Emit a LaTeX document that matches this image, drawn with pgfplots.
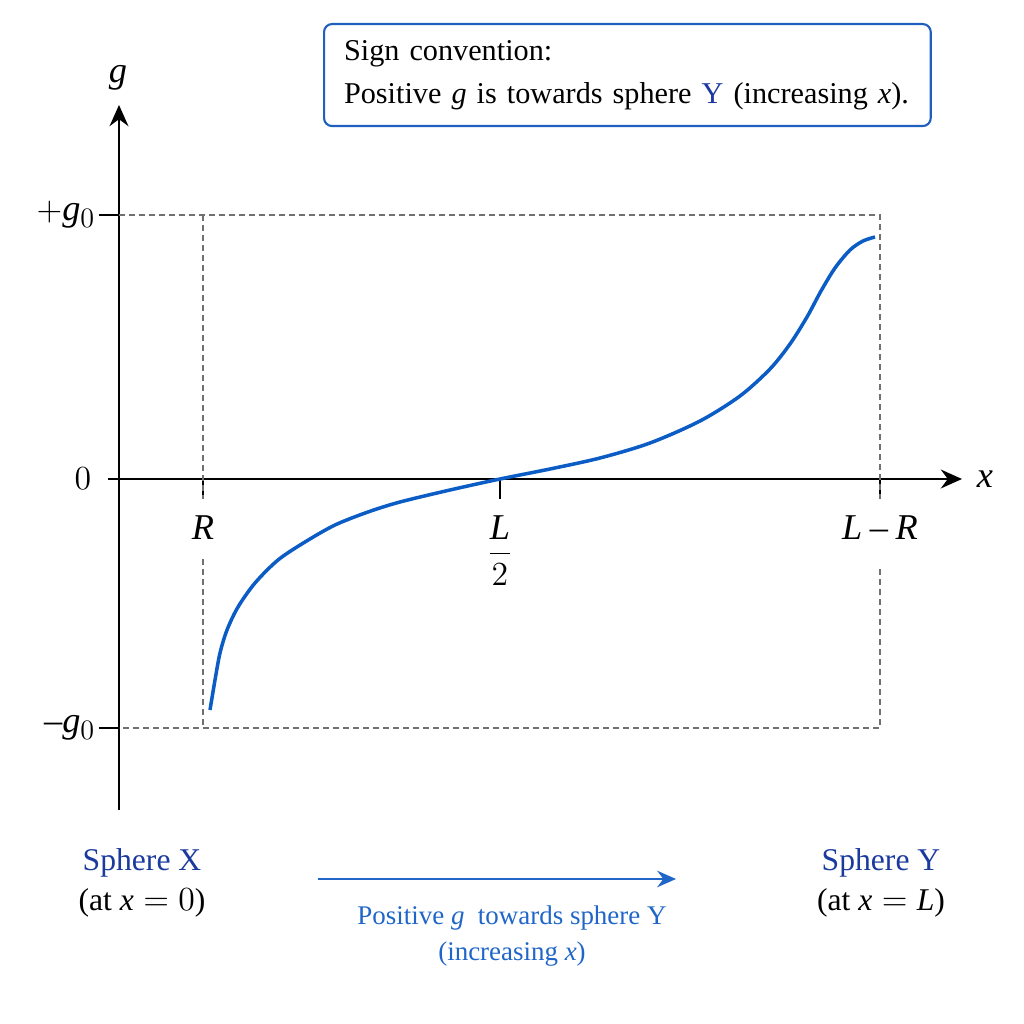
\documentclass[border=0pt]{standalone}
\usepackage{amsmath}
\usepackage{fontspec}
\setmainfont{Liberation Serif}
\usepackage[italic]{mathastext}
\usepackage{pgfplots}
\pgfplotsset{compat=1.18}
\usetikzlibrary{arrows.meta}

\definecolor{curveblue}{HTML}{0B5CC5}
\definecolor{boxblue}{HTML}{1F5FC0}
\definecolor{navy}{HTML}{1B3A9E}
\definecolor{capblue}{HTML}{1F66C8}
\definecolor{dashgray}{HTML}{707070}

\begin{document}
\begin{tikzpicture}
\begin{axis}[
    x=0.015cm, y=0.015cm,
    axis lines=middle,
    xmin=-11, xmax=843,
    ymin=-331, ymax=374,
    enlargelimits=false,
    clip=false,
    axis line style={line width=1.1pt},
    x axis line style={-{Stealth[length=9pt,width=8pt]}},
    y axis line style={-{Stealth[length=9pt,width=8pt]}},
    xtick={84,381,761},
    xticklabels={$R$,$\dfrac{L}{2}$,$L-R$},
    ytick={-249,0,264},
    yticklabels={$-g_0$,$0$,$+g_0$},
    tick align=outside,
    major tick length=0.3cm,
    tick style={black, line width=0.9pt},
    ticklabel style={font=\fontsize{15.5}{18}\selectfont},
    x tick label style={yshift=-0.12cm},
    y tick label style={xshift=0.07cm},
]
% dashed bounds
\draw[dashgray, line width=0.65pt, dash pattern=on 0.09cm off 0.06cm]
    (axis cs:0,264) -- (axis cs:761,264) -- (axis cs:761,-20);
\draw[dashgray, line width=0.65pt, dash pattern=on 0.09cm off 0.06cm]
    (axis cs:761,-90) -- (axis cs:761,-249) -- (axis cs:0,-249);
\draw[dashgray, line width=0.65pt, dash pattern=on 0.09cm off 0.06cm]
    (axis cs:84,264) -- (axis cs:84,-20);
\draw[dashgray, line width=0.65pt, dash pattern=on 0.09cm off 0.06cm]
    (axis cs:84,-80) -- (axis cs:84,-249);

\addplot[smooth, tension=0.5, color=curveblue, line width=1.5pt] coordinates {
    (91,-231) (96,-201) (101,-174) (108,-151) (119,-128) (136,-104)
    (159,-81) (186,-63) (216,-46) (249,-33) (281,-23) (331,-11) (381,0)
    (431,10) (481,21) (531,36) (581,58) (621,83) (651,110)
    (671,135) (688,162) (702,188) (716,211) (731,229) (744,238) (756,242)
};

% axis names and the zero label
\node[font=\fontsize{15.5}{18}\selectfont] at (axis cs:866,0) {$x$};
\node[font=\fontsize{15.5}{18}\selectfont] at (axis cs:-1,401) {$g$};
\node[font=\fontsize{15.5}{18}\selectfont] at (axis cs:-36,0) {$0$};

% sign convention box
\node[draw=boxblue, line width=0.9pt, rounded corners=0.12cm, anchor=north west,
      minimum width=9.1cm, minimum height=1.53cm, text width=8.5cm,
      inner xsep=0.28cm, align=left, font=\fontsize{12.9}{18.5}\selectfont]
    at (axis cs:204,456) {Sign convention:\\Positive $g$ is towards sphere \textcolor{navy}{Y} (increasing $x$).};

% bottom annotations
\node[align=center, font=\fontsize{13.5}{17}\selectfont] at (axis cs:23,-404)
    {\textcolor{navy}{Sphere X}\\(at $x=0$)};
\node[align=center, font=\fontsize{13.5}{17}\selectfont] at (axis cs:762,-404)
    {\textcolor{navy}{Sphere Y}\\(at $x=L$)};
\draw[capblue, line width=1.2pt, -{Stealth[length=8pt,width=7pt]}]
    (axis cs:199,-400) -- (axis cs:557,-400);
\node[align=center, text=capblue, font=\fontsize{11.5}{15.5}\selectfont] at (axis cs:393,-457)
    {Positive $g$ \ towards sphere Y\\(increasing $x$)};

\coordinate (tl) at (axis cs:-119,479);
\coordinate (br) at (axis cs:905,-545);
\end{axis}
\pgfresetboundingbox
\useasboundingbox (tl) rectangle (br);
\end{tikzpicture}
\end{document}
